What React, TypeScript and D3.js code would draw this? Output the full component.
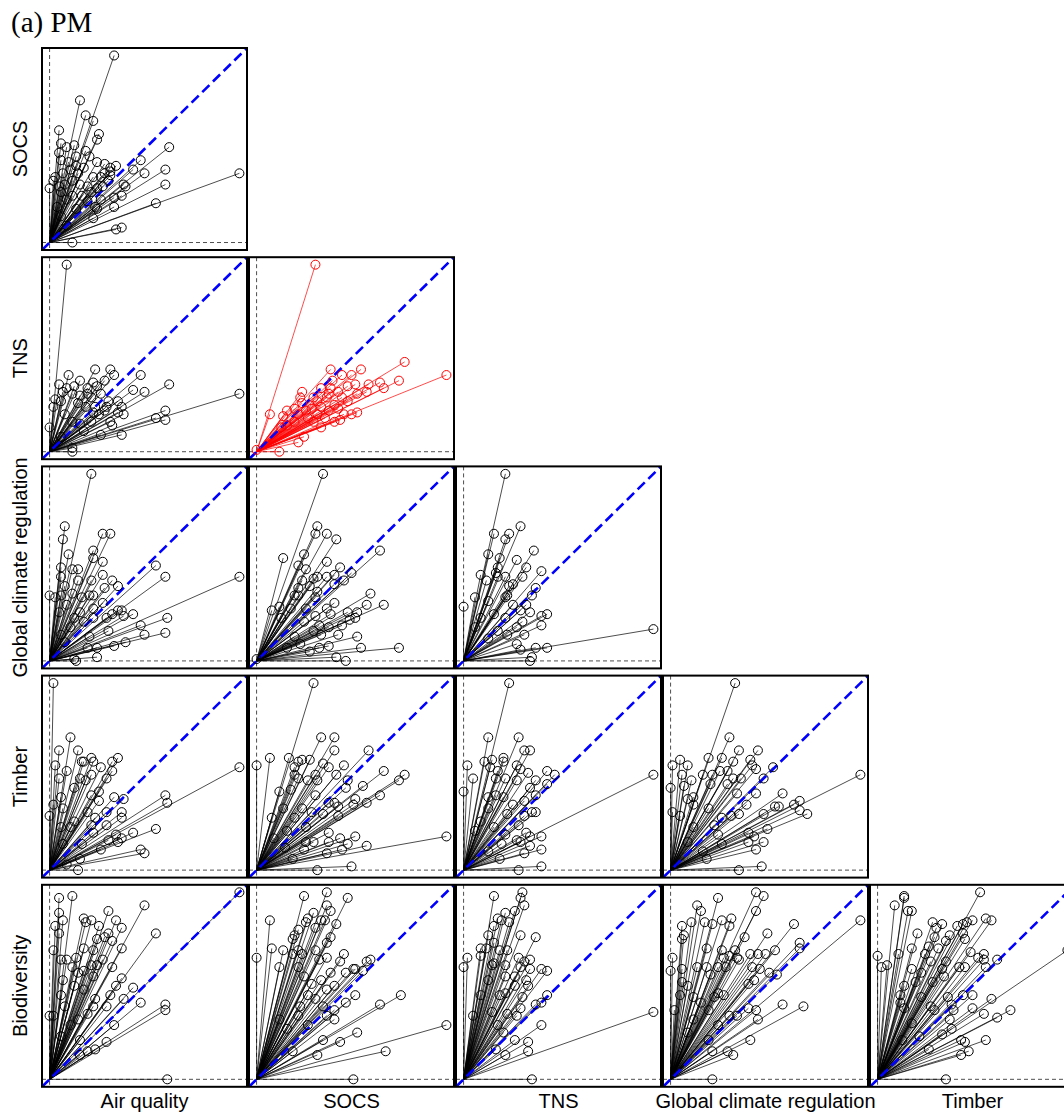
import React from "react";
import * as d3 from "d3";

const rowNames = ["SOCS", "TNS", "Global climate regulation", "Timber", "Biodiversity"];
const colNames = ["Air quality", "SOCS", "TNS", "Global climate regulation", "Timber"];

// each pair is [x, y], both axes scaled to the panel max (0-100)
const socsAir = [[34,100],[16,76],[19,68],[23,65],[26,58],[25,55],[5,60],[6,53],[9,51],[13,52],[5,48],[19,49],[14,46],[6,44],[10,43],[14,41],[21,46],[25,43],[29,42],[32,40],[35,41],[32,38],[29,37],[23,35],[15,37],[11,39],[7,37],[3,35],[2,33],[0,29],[5,30],[8,31],[12,33],[16,31],[20,30],[22,27],[17,25],[25,29],[28,30],[31,33],[39,31],[40,30],[38,25],[34,24],[27,23],[24,19],[25,18],[20,22],[34,19],[23,13],[44,39],[48,44],[50,37],[61,39],[63,51],[61,31],[56,21],[100,37],[35,7],[38,8],[12,0],[27,35],[32,36],[18,40],[12,25],[9,23],[6,27],[4,19],[6,14],[14,18],[9,9]];
const tnsAir = [[9,100],[24,44],[32,44],[34,41],[48,41],[63,36],[100,31],[10,41],[16,38],[23,37],[29,38],[5,36],[9,34],[13,35],[20,34],[25,35],[44,33],[50,32],[36,27],[31,27],[27,31],[22,29],[16,30],[12,31],[7,32],[3,28],[2,24],[6,27],[15,26],[19,24],[24,24],[29,22],[26,20],[38,24],[39,20],[36,21],[61,22],[61,17],[56,18],[32,16],[33,14],[27,9],[38,9],[22,16],[16,15],[12,16],[0,13],[8,20],[18,11],[12,0],[12,2],[6,8],[20,31],[30,24],[23,21]];
const tnsSocs = [[31,100],[78,48],[100,41],[39,44],[55,44],[45,41],[50,41],[75,38],[65,37],[67,34],[59,36],[52,36],[48,35],[40,38],[24,32],[23,29],[24,26],[34,34],[38,31],[43,32],[58,32],[7,20],[14,19],[16,22],[20,23],[29,23],[32,27],[41,25],[48,27],[53,31],[53,21],[50,20],[46,20],[44,17],[36,18],[34,13],[25,8],[22,5],[12,0],[0,1],[30,16],[27,18],[20,16],[16,14],[13,13],[38,22],[43,23],[45,29],[30,29],[34,24],[39,34],[26,22],[22,20],[32,20],[41,16],[37,29]];
const gcrAir = [[22,100],[8,72],[7,65],[28,68],[32,68],[10,57],[23,59],[23,55],[28,53],[6,50],[12,49],[15,49],[56,51],[61,45],[100,45],[28,46],[22,43],[6,45],[8,40],[15,43],[33,43],[36,40],[29,39],[0,35],[3,34],[6,35],[12,36],[17,34],[21,35],[23,35],[28,31],[36,27],[38,27],[33,25],[39,24],[44,25],[23,23],[18,21],[13,23],[30,23],[62,23],[48,19],[31,16],[50,14],[61,15],[21,13],[40,10],[34,8],[25,7],[25,2],[14,0],[13,1],[5,26],[9,30],[16,26],[11,18],[6,14],[20,7],[8,10],[23,28]];
const gcrSocs = [[35,100],[32,72],[31,68],[37,68],[42,65],[65,59],[14,55],[25,57],[37,53],[44,50],[22,51],[26,49],[50,47],[41,46],[37,45],[32,45],[30,44],[24,43],[46,43],[41,41],[28,40],[22,39],[32,37],[20,35],[22,35],[31,34],[60,36],[58,30],[67,30],[41,31],[37,28],[8,27],[12,29],[31,24],[39,25],[48,26],[53,26],[49,22],[52,23],[45,19],[43,14],[38,18],[33,19],[30,16],[25,21],[20,13],[53,13],[55,7],[75,7],[38,8],[33,7],[28,5],[42,2],[47,0],[0,1],[23,9],[16,7],[13,23],[18,28],[26,28],[34,14]];
const gcrTns = [[22,100],[16,68],[24,68],[22,65],[30,72],[13,57],[19,55],[37,59],[28,54],[33,50],[41,48],[18,50],[17,47],[9,46],[12,43],[18,45],[22,45],[31,45],[26,41],[24,40],[38,39],[36,35],[23,35],[22,34],[6,34],[0,29],[13,32],[33,30],[30,27],[35,26],[41,24],[44,25],[31,21],[41,19],[28,18],[32,14],[100,17],[44,7],[38,7],[28,9],[36,2],[35,0],[16,25],[22,23],[9,23],[18,16],[23,14],[13,12],[6,18],[26,30],[30,6]];
const timberAir = [[2,100],[11,71],[5,64],[15,64],[3,56],[17,58],[18,58],[22,60],[23,58],[36,60],[33,58],[27,55],[33,53],[9,53],[5,49],[16,49],[22,51],[30,49],[13,44],[19,48],[26,42],[22,40],[6,39],[7,33],[2,35],[0,29],[26,37],[34,39],[39,38],[61,40],[62,36],[100,55],[38,31],[38,28],[30,31],[24,28],[20,31],[13,26],[56,22],[44,20],[35,19],[38,17],[36,15],[31,16],[23,20],[17,14],[27,11],[48,11],[50,9],[15,0],[9,3],[11,23],[6,23],[22,24],[30,24],[7,14],[16,6]];
const timberSocs = [[30,100],[34,71],[41,71],[41,64],[0,56],[7,60],[17,60],[22,58],[24,59],[28,59],[35,57],[38,55],[46,56],[42,51],[59,64],[67,53],[78,51],[75,48],[20,55],[20,51],[22,49],[27,48],[31,51],[32,48],[48,48],[47,44],[56,45],[65,40],[58,36],[52,38],[51,35],[12,42],[18,43],[31,40],[38,36],[41,36],[43,34],[43,29],[35,30],[29,31],[24,33],[8,28],[14,33],[20,28],[26,23],[38,20],[44,17],[48,14],[52,18],[38,15],[30,15],[26,15],[58,13],[45,11],[37,9],[25,11],[19,6],[50,2],[32,0],[100,18],[16,21],[9,17],[15,12]];
const timberTns = [[24,100],[13,71],[29,71],[2,56],[0,42],[5,49],[11,58],[15,59],[21,60],[21,58],[32,64],[35,64],[28,56],[30,54],[34,52],[44,53],[48,51],[14,55],[18,53],[22,49],[17,49],[38,48],[44,46],[28,48],[35,44],[38,40],[13,39],[17,40],[21,39],[32,37],[26,35],[13,33],[23,30],[32,29],[36,31],[38,31],[29,24],[33,20],[35,18],[41,18],[28,16],[30,15],[35,13],[41,11],[32,9],[20,14],[19,6],[41,2],[29,0],[100,51],[9,26],[16,23],[22,19],[6,21],[13,10]];
const timberGcr = [[34,100],[31,71],[36,64],[46,64],[20,60],[27,60],[33,58],[42,59],[43,56],[45,54],[54,55],[49,49],[1,56],[5,59],[9,56],[6,51],[11,48],[7,45],[0,44],[17,51],[22,51],[26,53],[30,53],[33,49],[37,49],[21,46],[30,46],[35,41],[45,41],[59,41],[68,37],[65,35],[57,34],[55,34],[68,32],[72,30],[49,30],[40,35],[36,30],[32,29],[27,28],[20,33],[12,35],[12,39],[9,38],[1,31],[5,29],[51,22],[41,20],[44,18],[25,19],[27,14],[41,15],[49,15],[45,11],[19,6],[17,10],[48,2],[36,0],[100,51],[23,24],[12,23],[9,15]];
const bioAir = [[100,100],[5,97],[12,98],[5,89],[7,85],[3,82],[5,78],[2,69],[18,86],[19,84],[22,85],[31,90],[35,85],[50,93],[56,78],[26,82],[31,78],[38,81],[29,76],[33,74],[25,75],[38,70],[18,70],[23,69],[6,64],[9,64],[14,65],[12,60],[15,57],[22,61],[25,61],[28,64],[33,60],[18,58],[23,55],[38,54],[35,50],[44,49],[32,45],[39,43],[48,41],[61,40],[61,37],[24,43],[23,39],[20,35],[6,45],[0,34],[2,34],[8,39],[15,32],[34,29],[30,20],[24,16],[20,15],[16,13],[16,21],[62,0],[6,23],[11,29],[18,48],[13,50],[7,53],[30,39]];
const bioSocs = [[37,100],[25,98],[48,97],[37,93],[39,90],[30,89],[7,85],[27,86],[26,84],[34,85],[36,85],[31,81],[42,83],[39,76],[37,73],[22,80],[20,77],[19,75],[8,70],[14,69],[0,65],[12,60],[19,67],[22,69],[24,67],[31,69],[33,64],[37,65],[46,67],[44,63],[60,64],[58,63],[56,58],[51,59],[52,59],[47,57],[39,57],[34,53],[29,51],[25,55],[22,60],[41,50],[37,48],[52,45],[47,41],[76,45],[65,40],[100,29],[53,25],[35,21],[44,20],[68,15],[32,13],[19,15],[51,0],[27,45],[31,43],[35,39],[37,34],[41,32],[41,37],[22,34],[27,29],[16,27],[12,32],[23,39]];
const bioTns = [[31,100],[16,98],[30,97],[32,93],[27,90],[22,89],[18,86],[20,85],[24,84],[16,82],[13,77],[16,73],[30,77],[38,76],[9,70],[12,70],[19,69],[23,69],[9,66],[2,65],[0,60],[15,61],[22,61],[29,65],[32,63],[35,64],[41,59],[44,58],[30,60],[35,59],[22,55],[27,55],[34,50],[33,53],[44,45],[41,41],[38,40],[31,44],[27,50],[22,46],[19,45],[30,38],[28,34],[23,35],[5,34],[41,29],[21,25],[27,21],[34,20],[34,15],[17,16],[22,13],[36,0],[100,36],[13,53],[9,45],[15,36],[18,29],[16,62]];
const bioGcr = [[45,100],[49,98],[25,97],[14,93],[16,90],[45,90],[6,82],[7,77],[6,75],[11,84],[18,84],[22,83],[27,85],[31,82],[32,86],[39,76],[51,78],[65,83],[100,85],[68,73],[68,70],[55,69],[19,70],[27,69],[34,69],[42,67],[46,67],[50,67],[1,65],[0,58],[6,59],[14,60],[19,60],[25,60],[21,56],[28,65],[31,66],[35,65],[36,64],[29,60],[43,60],[47,59],[52,57],[56,56],[41,51],[44,53],[6,52],[9,50],[5,45],[2,37],[12,44],[16,41],[25,46],[28,45],[23,44],[41,38],[59,40],[70,39],[31,34],[35,34],[45,37],[46,32],[25,29],[42,21],[20,21],[22,15],[30,15],[33,13],[22,0],[20,37],[12,32],[9,25]];
const bioTimber = [[54,100],[14,98],[14,97],[9,93],[16,90],[18,90],[29,84],[34,83],[31,81],[21,78],[18,70],[11,67],[0,66],[2,60],[5,61],[30,76],[38,77],[42,82],[45,83],[47,84],[50,85],[57,86],[60,85],[45,78],[46,75],[36,74],[27,71],[32,70],[25,67],[28,63],[36,63],[43,60],[46,60],[49,68],[53,65],[56,67],[56,64],[57,60],[63,64],[18,59],[23,57],[34,59],[35,55],[29,52],[20,52],[14,50],[12,45],[12,41],[14,38],[23,44],[28,39],[30,37],[37,44],[45,45],[50,45],[60,43],[39,40],[40,37],[50,38],[56,35],[63,33],[70,37],[38,32],[39,27],[34,24],[27,16],[44,21],[46,20],[57,21],[44,13],[48,15],[36,0],[100,69],[18,30],[13,21],[22,23]];

const panelRows = [
  [socsAir],
  [tnsAir, tnsSocs],
  [gcrAir, gcrSocs, gcrTns],
  [timberAir, timberSocs, timberTns, timberGcr],
  [bioAir, bioSocs, bioTns, bioGcr, bioTimber],
];
const redPanel = "1-1";

const W = 1064;
const H = 1112;
const left0 = 42;
const top0 = 48;
const pw = 205;
const ph = 202;
const stepX = 207;
const stepY = 209.2;
const sans = "'Liberation Sans', Arial, sans-serif";

function Panel({ data, x0, y0, color, id }) {
  const x = d3.scaleLinear().domain([-4, 104]).range([x0, x0 + pw]);
  const y = d3.scaleLinear().domain([-4, 104]).range([y0 + ph, y0]);
  return (
    <g>
      <clipPath id={id}>
        <rect x={x0} y={y0} width={pw} height={ph} />
      </clipPath>
      <g clipPath={`url(#${id})`}>
        <line x1={x(0)} x2={x(0)} y1={y0} y2={y0 + ph} stroke="#222" strokeWidth={0.8} strokeDasharray="4,3" />
        <line x1={x0} x2={x0 + pw} y1={y(0)} y2={y(0)} stroke="#222" strokeWidth={0.8} strokeDasharray="4,3" />
        {data.map((d, i) => (
          <line key={"l" + i} x1={x(0)} y1={y(0)} x2={x(d[0])} y2={y(d[1])} stroke={color} strokeWidth={0.7} />
        ))}
        <line x1={x(-4)} y1={y(-4)} x2={x(104)} y2={y(104)} stroke="#0000ff" strokeWidth={2.6} strokeDasharray="10,5" />
        {data.map((d, i) => (
          <circle key={"c" + i} cx={x(d[0])} cy={y(d[1])} r={4.5} fill="none" stroke={color} strokeWidth={1} />
        ))}
      </g>
      <rect x={x0} y={y0} width={pw} height={ph} fill="none" stroke="#000" strokeWidth={2} />
    </g>
  );
}

export default function App() {
  return (
    <>
      <style>{"body{margin:0}"}</style>
      <svg width={W} height={H} style={{ display: "block", background: "#fff" }}>
        <text x={11} y={32} fontFamily="'Liberation Serif', 'Times New Roman', serif" fontSize={29}>
          (a) PM
        </text>
        {panelRows.map((row, r) =>
          row.map((data, c) => {
            const x0 = left0 + c * stepX;
            const y0 = top0 + r * stepY;
            const red = `${r}-${c}` === redPanel;
            return (
              <Panel key={`${r}-${c}`} id={`clip-${r}-${c}`} data={data} x0={x0} y0={y0} color={red ? "#ff0000" : "#000"} />
            );
          })
        )}
        {rowNames.map((name, r) => {
          const cy = top0 + r * stepY + ph / 2;
          return (
            <text key={name + r} transform={`translate(27,${cy}) rotate(-90)`} textAnchor="middle"
              fontFamily={sans} fontSize={20}>
              {name}
            </text>
          );
        })}
        {colNames.map((name, c) => (
          <text key={name + c} x={left0 + c * stepX + pw / 2} y={1108} textAnchor="middle"
            fontFamily={sans} fontSize={20}>
            {name}
          </text>
        ))}
      </svg>
    </>
  );
}
